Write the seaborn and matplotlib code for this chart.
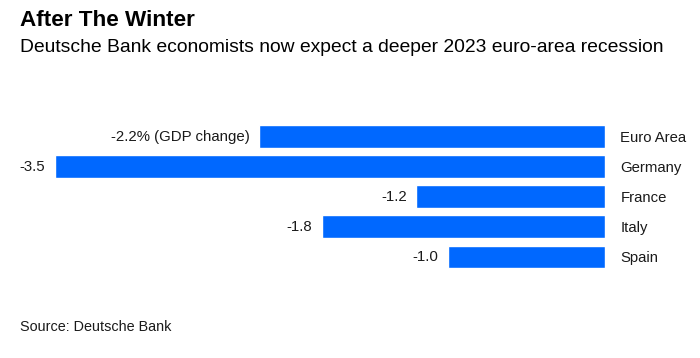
import matplotlib
matplotlib.use("Agg")
import matplotlib.pyplot as plt
import seaborn as sns
import pandas as pd

categories = ["Euro Area", "Germany", "France", "Italy", "Spain"]
gdp_change = [-2.2, -3.5, -1.2, -1.8, -1.0]
value_labels = ["-2.2% (GDP change)", "-3.5", "-1.2", "-1.8", "-1.0"]

title = "After The Winter"
subtitle = "Deutsche Bank economists now expect a deeper 2023 euro-area recession"
source = "Source: Deutsche Bank"

sns.set_style("white")
plt.rcParams["font.family"] = ["Liberation Sans", "DejaVu Sans"]

df = pd.DataFrame({"country": categories, "gdp": gdp_change})

fig = plt.figure(figsize=(7.0, 3.58), dpi=100)
ax = fig.add_axes([55 / 700, 1 - 272 / 358, (605 - 55) / 700, (272 - 121.5) / 358])

sns.barplot(data=df, x="gdp", y="country", orient="h", color="#0068ff",
            saturation=1, width=0.76, ax=ax)

ax.set_xlim(-3.5, 0)
ax.set_ylim(4.5, -0.5)
ax.set_xlabel("")
ax.set_ylabel("")
ax.set_xticks([])
ax.yaxis.tick_right()
ax.tick_params(axis="y", length=0, pad=11, labelsize=10.7, labelcolor="#1a1a1a")
for s in ax.spines.values():
    s.set_visible(False)

ax.bar_label(ax.containers[0], labels=value_labels, padding=7,
             fontsize=10.8, color="#1a1a1a")

fig.text(20 / 700, 1 - 10 / 358, title, fontsize=16.2, fontweight="bold",
         va="top", ha="left", color="#000000")
fig.text(20 / 700, 1 - 38.5 / 358, subtitle, fontsize=13.9, va="top",
         ha="left", color="#000000")
fig.text(20 / 700, 1 - 320 / 358, source, fontsize=10.4, va="top",
         ha="left", color="#1a1a1a")

fig.savefig("out.png", dpi=100)
